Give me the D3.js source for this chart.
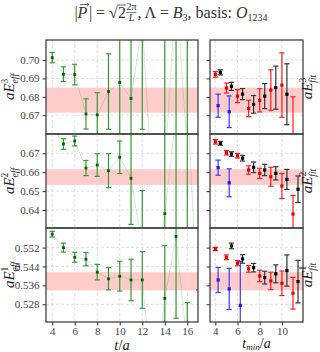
<!DOCTYPE html>
<html>
<head>
<meta charset="utf-8">
<script src="https://cdn.jsdelivr.net/npm/d3@7"></script>
<style>
  body { margin: 0; background: #fff; }
  text { font-family: "Liberation Serif", "DejaVu Serif", serif; white-space: pre; }
</style>
</head>
<body>
<div id="chart"></div>
<script>
// Data

// effective energies vs t/a (left column)
var tEff = [4, 5, 6, 7, 8, 9, 10, 11, 12, 13, 14, 15, 16, 17];
var eff3 = [0.7013, 0.6923, 0.6921, 0.6707, 0.6702, 0.6829, 0.6878, 0.6791, 0.7200, 0.6200, 0.6400, 0.7400, 0.6500, 0.6000];
var eff3Err = [0.0028, 0.0040, 0.0056, 0.0082, 0.0120, 0.0205, 0.0350, 0.0350, 0.0576, 0.0200, 0.0800, 0.1000, 0.0700, 0.0100];
var eff2 = [0.6840, 0.6749, 0.6765, 0.6622, 0.6638, 0.6608, 0.6679, 0.6568, 0.6200, 0.6000, 0.6381, 0.6900, 0.7000, 0.5800];
var eff2Err = [0.0020, 0.0028, 0.0026, 0.0040, 0.0060, 0.0090, 0.0086, 0.0244, 0.0303, 0.0200, 0.0500, 0.0700, 0.0800, 0.0100];
var eff1 = [0.5577, 0.5520, 0.5479, 0.5471, 0.5416, 0.5388, 0.5399, 0.5383, 0.5383, 0.4900, 0.5305, 0.5567, 0.5100, 0.5150];
var eff1Err = [0.0012, 0.0019, 0.0021, 0.0028, 0.0033, 0.0047, 0.0063, 0.0088, 0.0120, 0.0200, 0.0223, 0.0346, 0.0187, 0.0191];

// fit results vs t_min/a (right column)
var tFit = [4, 5, 6, 7, 8, 9, 10, 11];
var tBlue = [4, 5, 6];
var fitRed3 = [0.6922, 0.6848, 0.6804, 0.6737, 0.6781, 0.6837, 0.6864, 0.6550];
var fitRed3Err = [0.0015, 0.0027, 0.0035, 0.0045, 0.0063, 0.0110, 0.0175, 0.0250];
var fitBlack3 = [0.6933, 0.6857, 0.6815, 0.6759, 0.6804, 0.6850, 0.6814, 0.6500];
var fitBlack3Err = [0.0014, 0.0022, 0.0030, 0.0048, 0.0068, 0.0117, 0.0166, 0.0050];
var fitBlue3 = [0.6752, 0.6719, 0.6450];
var fitBlue3Err = [0.0063, 0.0086, 0.0100];

var fitRed2 = [0.6761, 0.6703, 0.6687, 0.6612, 0.6594, 0.6576, 0.6527, 0.6379];
var fitRed2Err = [0.0012, 0.0012, 0.0012, 0.0022, 0.0027, 0.0050, 0.0066, 0.0098];
var fitBlack2 = [0.6753, 0.6696, 0.6674, 0.6626, 0.6612, 0.6594, 0.6562, 0.6510];
var fitBlack2Err = [0.0010, 0.0012, 0.0015, 0.0028, 0.0030, 0.0035, 0.0053, 0.0070];
var fitBlue2 = [0.6624, 0.6544, 0.6150];
var fitBlue2Err = [0.0040, 0.0074, 0.0100];

var fitRed1 = [0.5514, 0.5479, 0.5454, 0.5430, 0.5400, 0.5379, 0.5369, 0.5327];
var fitRed1Err = [0.0007, 0.0010, 0.0011, 0.0014, 0.0024, 0.0037, 0.0052, 0.0067];
var fitBlack1 = [0.5625, 0.5527, 0.5472, 0.5435, 0.5393, 0.5409, 0.5423, 0.5376];
var fitBlack1Err = [0.0010, 0.0012, 0.0018, 0.0018, 0.0027, 0.0038, 0.0066, 0.0090];
var fitBlue1 = [0.5383, 0.5345, 0.5275];
var fitBlue1Err = [0.0053, 0.0087, 0.0186];

// chosen energy band per level
var band3 = [0.6714, 0.6850];
var band2 = [0.6533, 0.6616];
var band1 = [0.5339, 0.5416];

// y ticks per row
var yTicks3 = [0.67, 0.68, 0.69, 0.70];
var yTicks2 = [0.64, 0.65, 0.66, 0.67];
var yTicks1 = [0.528, 0.536, 0.544, 0.552];
var xTicksEff = [4, 6, 8, 10, 12, 14, 16];
var xTicksFit = [4, 6, 8, 10];

// Step 1: set up chart
var svgWidth = 320;
var svgHeight = 352;

var leftX = [46, 198];
var rightX = [210, 303];
var rowTop = 40;
var rowH = 94;

var svg = d3.select("#chart")
  .append("svg")
  .attr("width", svgWidth)
  .attr("height", svgHeight)
  .style("background", "#fff");

var xEff = d3.scaleLinear().domain([3.45, 16.95]).range(leftX);
var xFit = d3.scaleLinear().domain([3.52, 11.9]).range(rightX);

var rows = [
  { level: "3", dom: [0.6598, 0.7109], ticks: yTicks3, fmt: ".2f", eff: eff3, effErr: eff3Err, band: band3,
    red: fitRed3, redErr: fitRed3Err, black: fitBlack3, blackErr: fitBlack3Err, blue: fitBlue3, blueErr: fitBlue3Err },
  { level: "2", dom: [0.6305, 0.6802], ticks: yTicks2, fmt: ".2f", eff: eff2, effErr: eff2Err, band: band2,
    red: fitRed2, redErr: fitRed2Err, black: fitBlack2, blackErr: fitBlack2Err, blue: fitBlue2, blueErr: fitBlue2Err },
  { level: "1", dom: [0.5205, 0.5603], ticks: yTicks1, fmt: ".3f", eff: eff1, effErr: eff1Err, band: band1,
    red: fitRed1, redErr: fitRed1Err, black: fitBlack1, blackErr: fitBlack1Err, blue: fitBlue1, blueErr: fitBlue1Err }
];

var gridColor = "#d8d8d8";
var frameColor = "#333";
var green = "#359a35";
var capW = 2.6;

function drawErrors(g, xs, ys, es, x, y, color, ptColor, ptSize) {
  xs.forEach(function(t, i) {
    var cx = x(t);
    var lo = y(ys[i] - es[i]), hi = y(ys[i] + es[i]);
    g.append("line").attr("x1", cx).attr("x2", cx).attr("y1", lo).attr("y2", hi)
      .attr("stroke", color).attr("stroke-width", 1.2);
    [lo, hi].forEach(function(yy) {
      g.append("line").attr("x1", cx - capW).attr("x2", cx + capW).attr("y1", yy).attr("y2", yy)
        .attr("stroke", color).attr("stroke-width", 1.2);
    });
    g.append("rect").attr("x", cx - ptSize / 2).attr("y", y(ys[i]) - ptSize / 2)
      .attr("width", ptSize).attr("height", ptSize).attr("fill", ptColor);
  });
}

function drawGrid(g, x, y, xt, yt, x0, x1, y0, y1) {
  xt.forEach(function(t) {
    g.append("line").attr("x1", x(t)).attr("x2", x(t)).attr("y1", y0).attr("y2", y1)
      .attr("stroke", gridColor).attr("stroke-width", 0.8).attr("stroke-dasharray", "3,2");
  });
  yt.forEach(function(v) {
    g.append("line").attr("x1", x0).attr("x2", x1).attr("y1", y(v)).attr("y2", y(v))
      .attr("stroke", gridColor).attr("stroke-width", 0.8).attr("stroke-dasharray", "3,2");
  });
}

// label like aE^3_eff, rotated
function mathLabel(cx, cy, sub, sup) {
  var t = svg.append("text")
    .attr("transform", `translate(${cx},${cy}) rotate(-90)`)
    .attr("text-anchor", "middle")
    .style("font-size", "15px")
    .style("font-style", "italic")
    .attr("fill", "#222");
  t.append("tspan").text("aE");
  t.append("tspan").attr("dy", -6).style("font-size", "9.5px").style("font-style", "normal").text(sup);
  t.append("tspan").attr("dx", -4.8).attr("dy", 10).style("font-size", "9.5px").text(sub);
}

rows.forEach(function(r, k) {
  var y0 = rowTop + k * rowH, y1 = y0 + rowH;
  var y = d3.scaleLinear().domain(r.dom).range([y1, y0]);

  // ---- left panel: effective energy ----
  var clipL = "clipL" + k;
  svg.append("clipPath").attr("id", clipL).append("rect")
    .attr("x", leftX[0]).attr("y", y0).attr("width", leftX[1] - leftX[0]).attr("height", rowH);
  var gl = svg.append("g").attr("clip-path", `url(#${clipL})`);
  drawGrid(gl, xEff, y, xTicksEff, r.ticks, leftX[0], leftX[1], y0, y1);
  gl.append("rect").attr("x", leftX[0]).attr("width", leftX[1] - leftX[0])
    .attr("y", y(r.band[1])).attr("height", y(r.band[0]) - y(r.band[1]))
    .attr("fill", "#ffcccc");
  gl.append("path")
    .datum(tEff.map(function(t, i) { return [t, r.eff[i]]; }))
    .attr("d", d3.line().x(d => xEff(d[0])).y(d => y(d[1])))
    .attr("fill", "none").attr("stroke", "#359a35").attr("stroke-opacity", 0.22).attr("stroke-width", 1);
  drawErrors(gl, tEff, r.eff, r.effErr, xEff, y, green, "#0a5a0a", 2.8);

  // ---- right panel: fits ----
  var clipR = "clipR" + k;
  svg.append("clipPath").attr("id", clipR).append("rect")
    .attr("x", rightX[0]).attr("y", y0).attr("width", rightX[1] - rightX[0]).attr("height", rowH);
  var gr = svg.append("g").attr("clip-path", `url(#${clipR})`);
  drawGrid(gr, xFit, y, xTicksFit, r.ticks, rightX[0], rightX[1], y0, y1);
  gr.append("rect").attr("x", rightX[0]).attr("width", rightX[1] - rightX[0])
    .attr("y", y(r.band[1])).attr("height", y(r.band[0]) - y(r.band[1]))
    .attr("fill", "#ffcccc");
  drawErrors(gr, tFit, r.red, r.redErr, function(t) { return xFit(t); }, y, "#ff1a1a", "#e00000", 3.2);
  drawErrors(gr, tBlue, r.blue, r.blueErr, function(t) { return xFit(t + 0.25); }, y, "#3a3aff", "#1a1aee", 3.2);
  drawErrors(gr, tFit, r.black, r.blackErr, function(t) { return xFit(t + 0.45); }, y, "#333", "#000", 3.2);

  // ---- axes ----
  var leftAxis = d3.axisLeft(y).tickValues(r.ticks).tickFormat(d3.format(r.fmt)).tickSize(3.5).tickPadding(3);
  var ax = svg.append("g").attr("transform", `translate(${leftX[0]},0)`).call(leftAxis);
  ax.select(".domain").remove();
  ax.selectAll("line").attr("stroke", frameColor);
  ax.selectAll("text").style("font-size", "11px").style("font-family", "Liberation Serif, serif").attr("fill", "#444");

  var rAxis = d3.axisLeft(y).tickValues(r.ticks).tickFormat("").tickSize(3.5);
  var ax2 = svg.append("g").attr("transform", `translate(${rightX[0]},0)`).call(rAxis);
  ax2.select(".domain").remove();
  ax2.selectAll("line").attr("stroke", frameColor);

  // frames
  [leftX, rightX].forEach(function(xr) {
    svg.append("rect").attr("x", xr[0]).attr("y", y0).attr("width", xr[1] - xr[0]).attr("height", rowH)
      .attr("fill", "none").attr("stroke", frameColor).attr("stroke-width", 1.2);
  });

  mathLabel(14, (y0 + y1) / 2, "eff", r.level);
  mathLabel(312, (y0 + y1) / 2, "fit", r.level);
});

// bottom x axes
var bottomY = rowTop + 3 * rowH;
var bx = svg.append("g").attr("transform", `translate(0,${bottomY})`)
  .call(d3.axisBottom(xEff).tickValues(xTicksEff).tickSize(3.5).tickPadding(1.5));
bx.select(".domain").remove();
bx.selectAll("line").attr("stroke", frameColor);
bx.selectAll("text").style("font-size", "11px").style("font-family", "Liberation Serif, serif").attr("fill", "#444");

var bx2 = svg.append("g").attr("transform", `translate(0,${bottomY})`)
  .call(d3.axisBottom(xFit).tickValues(xTicksFit).tickSize(3.5).tickPadding(1.5));
bx2.select(".domain").remove();
bx2.selectAll("line").attr("stroke", frameColor);
bx2.selectAll("text").style("font-size", "11px").style("font-family", "Liberation Serif, serif").attr("fill", "#444");

// x labels
var xl = svg.append("text").attr("x", (leftX[0] + leftX[1]) / 2).attr("y", 349.5)
  .attr("text-anchor", "middle").style("font-size", "14.5px").style("font-style", "italic").attr("fill", "#222");
xl.append("tspan").text("t");
xl.append("tspan").style("font-style", "normal").text("/");
xl.append("tspan").text("a");

var xl2 = svg.append("text").attr("x", (rightX[0] + rightX[1]) / 2).attr("y", 348)
  .attr("text-anchor", "middle").style("font-size", "14px").style("font-style", "italic").attr("fill", "#222");
xl2.append("tspan").text("t");
xl2.append("tspan").attr("dy", 1.8).style("font-size", "9px").text("min");
xl2.append("tspan").attr("dy", -1.8).style("font-style", "normal").text("/");
xl2.append("tspan").text("a");

// title, built piece by piece
var title = svg.append("g");
var cursor = 0;
var tSize = 16, tSmall = 10;
function piece(txt, size, italic, yy) {
  var el = title.append("text").attr("x", cursor).attr("y", yy)
    .style("font-size", size + "px").style("font-style", italic ? "italic" : "normal")
    .attr("fill", "#333").text(txt);
  var w = el.node().getComputedTextLength();
  cursor += w;
  return { x: cursor - w, w: w };
}
piece("|", tSize, false, 18);
var pP = piece("P", tSize, true, 18);
// arrow over P
title.append("path")
  .attr("d", `M${pP.x + 2.5},4.5 L${pP.x + pP.w + 1.5},4.5 M${pP.x + pP.w - 0.5},2.6 L${pP.x + pP.w + 1.5},4.5 L${pP.x + pP.w - 0.5},6.4`)
  .attr("fill", "none").attr("stroke", "#333").attr("stroke-width", 0.8);
cursor += 1.5;
piece("| = \u221A", tSize, false, 18);
var p2 = piece("2", tSize, false, 18);
title.append("line").attr("x1", p2.x - 0.5).attr("x2", p2.x + p2.w).attr("y1", 5).attr("y2", 5)
  .attr("stroke", "#333").attr("stroke-width", 0.8);
cursor += 0.5;
var fracX = cursor;
var fnum = title.append("text").attr("x", fracX).attr("y", 10).style("font-size", tSmall + "px").attr("fill", "#333").text("2\u03C0");
var fw = fnum.node().getComputedTextLength();
title.append("line").attr("x1", fracX).attr("x2", fracX + fw).attr("y1", 12.5).attr("y2", 12.5).attr("stroke", "#333").attr("stroke-width", 0.6);
title.append("text").attr("x", fracX + fw / 2).attr("y", 21).attr("text-anchor", "middle")
  .style("font-size", tSmall + "px").style("font-style", "italic").attr("fill", "#333").text("L");
cursor += fw + 1;
piece(", \u039B = ", tSize, false, 18);
piece("B", tSize, true, 18);
piece("3", tSmall, false, 21);
piece(", basis: ", tSize, false, 18);
piece("O", tSize, true, 18);
piece("1234", tSmall, false, 21);
title.attr("transform", `translate(${171 - cursor / 2},0)`);
</script>
</body>
</html>
